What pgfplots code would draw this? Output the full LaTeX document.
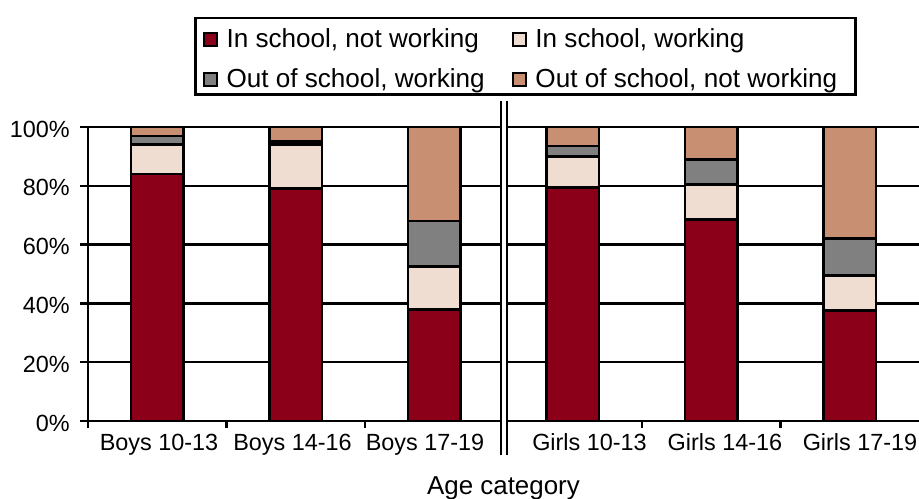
\documentclass[border=0pt]{standalone}
\usepackage{pgfplots}
\pgfplotsset{compat=1.18}
\usepackage{fontspec}
\setmainfont{Liberation Sans}
\definecolor{cRed}{RGB}{139,0,24}
\definecolor{cPink}{RGB}{240,221,210}
\definecolor{cGrey}{RGB}{128,128,128}
\definecolor{cTan}{RGB}{201,143,115}
\begin{document}
\begin{tikzpicture}
\useasboundingbox (0,0) rectangle (919bp,499bp);
\begin{axis}[
  at={(88bp,78bp)}, anchor=south west,
  scale only axis, width=831bp, height=294bp,
  ybar stacked, bar width=0.38,
  legend image code/.code={\draw[#1, line width=1.8bp] (0bp,1.5bp) rectangle (13bp,15bp); \path (21bp,0bp);},
  xmin=-0.5, xmax=5.5, ymin=0, ymax=100,
  clip=false,
  axis lines=left, axis line style={-, line width=2.4bp, black},
  tick align=outside,
  xtick={0.013,0.977,1.933,3.121,4.099,5.074},
  xticklabels={Boys 10-13, Boys 14-16, Boys 17-19, Girls 10-13, Girls 14-16, Girls 17-19},
  major x tick style={draw=none},
  minor xtick={-0.5,0.5,1.5,3.5,4.5},
  minor x tick style={black, line width=2.4bp},
  minor tick length=7bp,
  major tick length=8bp,
  ytick={0,20,40,60,80,100},
  yticklabels={0\%,20\%,40\%,60\%,80\%,100\%},
  major y tick style={black, line width=2.4bp},
  ymajorgrids, major grid style={black, line width=2.4bp},
  xticklabel style={font=\fontsize{23.5}{28}\selectfont, anchor=base, inner sep=0pt, yshift=-21bp},
  yticklabel style={font=\fontsize{23.5}{28}\selectfont, anchor=east, inner sep=0pt, xshift=-10bp, yshift=-2bp},
  xlabel={Age category},
  xlabel style={font=\fontsize{26}{30}\selectfont, at={(axis description cs:0.5,-0.2483)}, anchor=base, inner sep=0pt},
  legend columns=2,
  legend style={at={(0.1276,1.3752)}, anchor=north west, draw=black, line width=2.6bp, fill=white,
    inner xsep=8bp, inner ysep=0.8bp, font=\fontsize{26.2}{30}\selectfont,
    cells={anchor=base west}, nodes={inner sep=0pt, text height=29bp, text depth=6bp},
    row sep=5bp, /tikz/every even column/.append style={column sep=27.5bp}},
]
\addplot[fill=cRed, draw=black, line width=2.6bp] coordinates {(0,84) (1,79) (2,38) (3,79.5) (4,68.5) (5,37.5)};
\addlegendentry{In school, not working}
\addplot[fill=cPink, draw=black, line width=2.6bp] coordinates {(0,10) (1,15) (2,14.5) (3,10.5) (4,12) (5,12)};
\addlegendentry{In school, working}
\addplot[fill=cGrey, draw=black, line width=2.6bp] coordinates {(0,3) (1,1) (2,15.5) (3,3.5) (4,8.5) (5,12.5)};
\addlegendentry{Out of school, working}
\addplot[fill=cTan, draw=black, line width=2.6bp] coordinates {(0,3) (1,5) (2,32) (3,6.5) (4,11) (5,38)};
\addlegendentry{Out of school, not working\rule{10bp}{0pt}}
\draw[draw=black, line width=2bp, double=white, double distance=4bp] (axis cs:2.5,-11.6) -- (axis cs:2.5,108.9);
\end{axis}
\end{tikzpicture}
\end{document}
